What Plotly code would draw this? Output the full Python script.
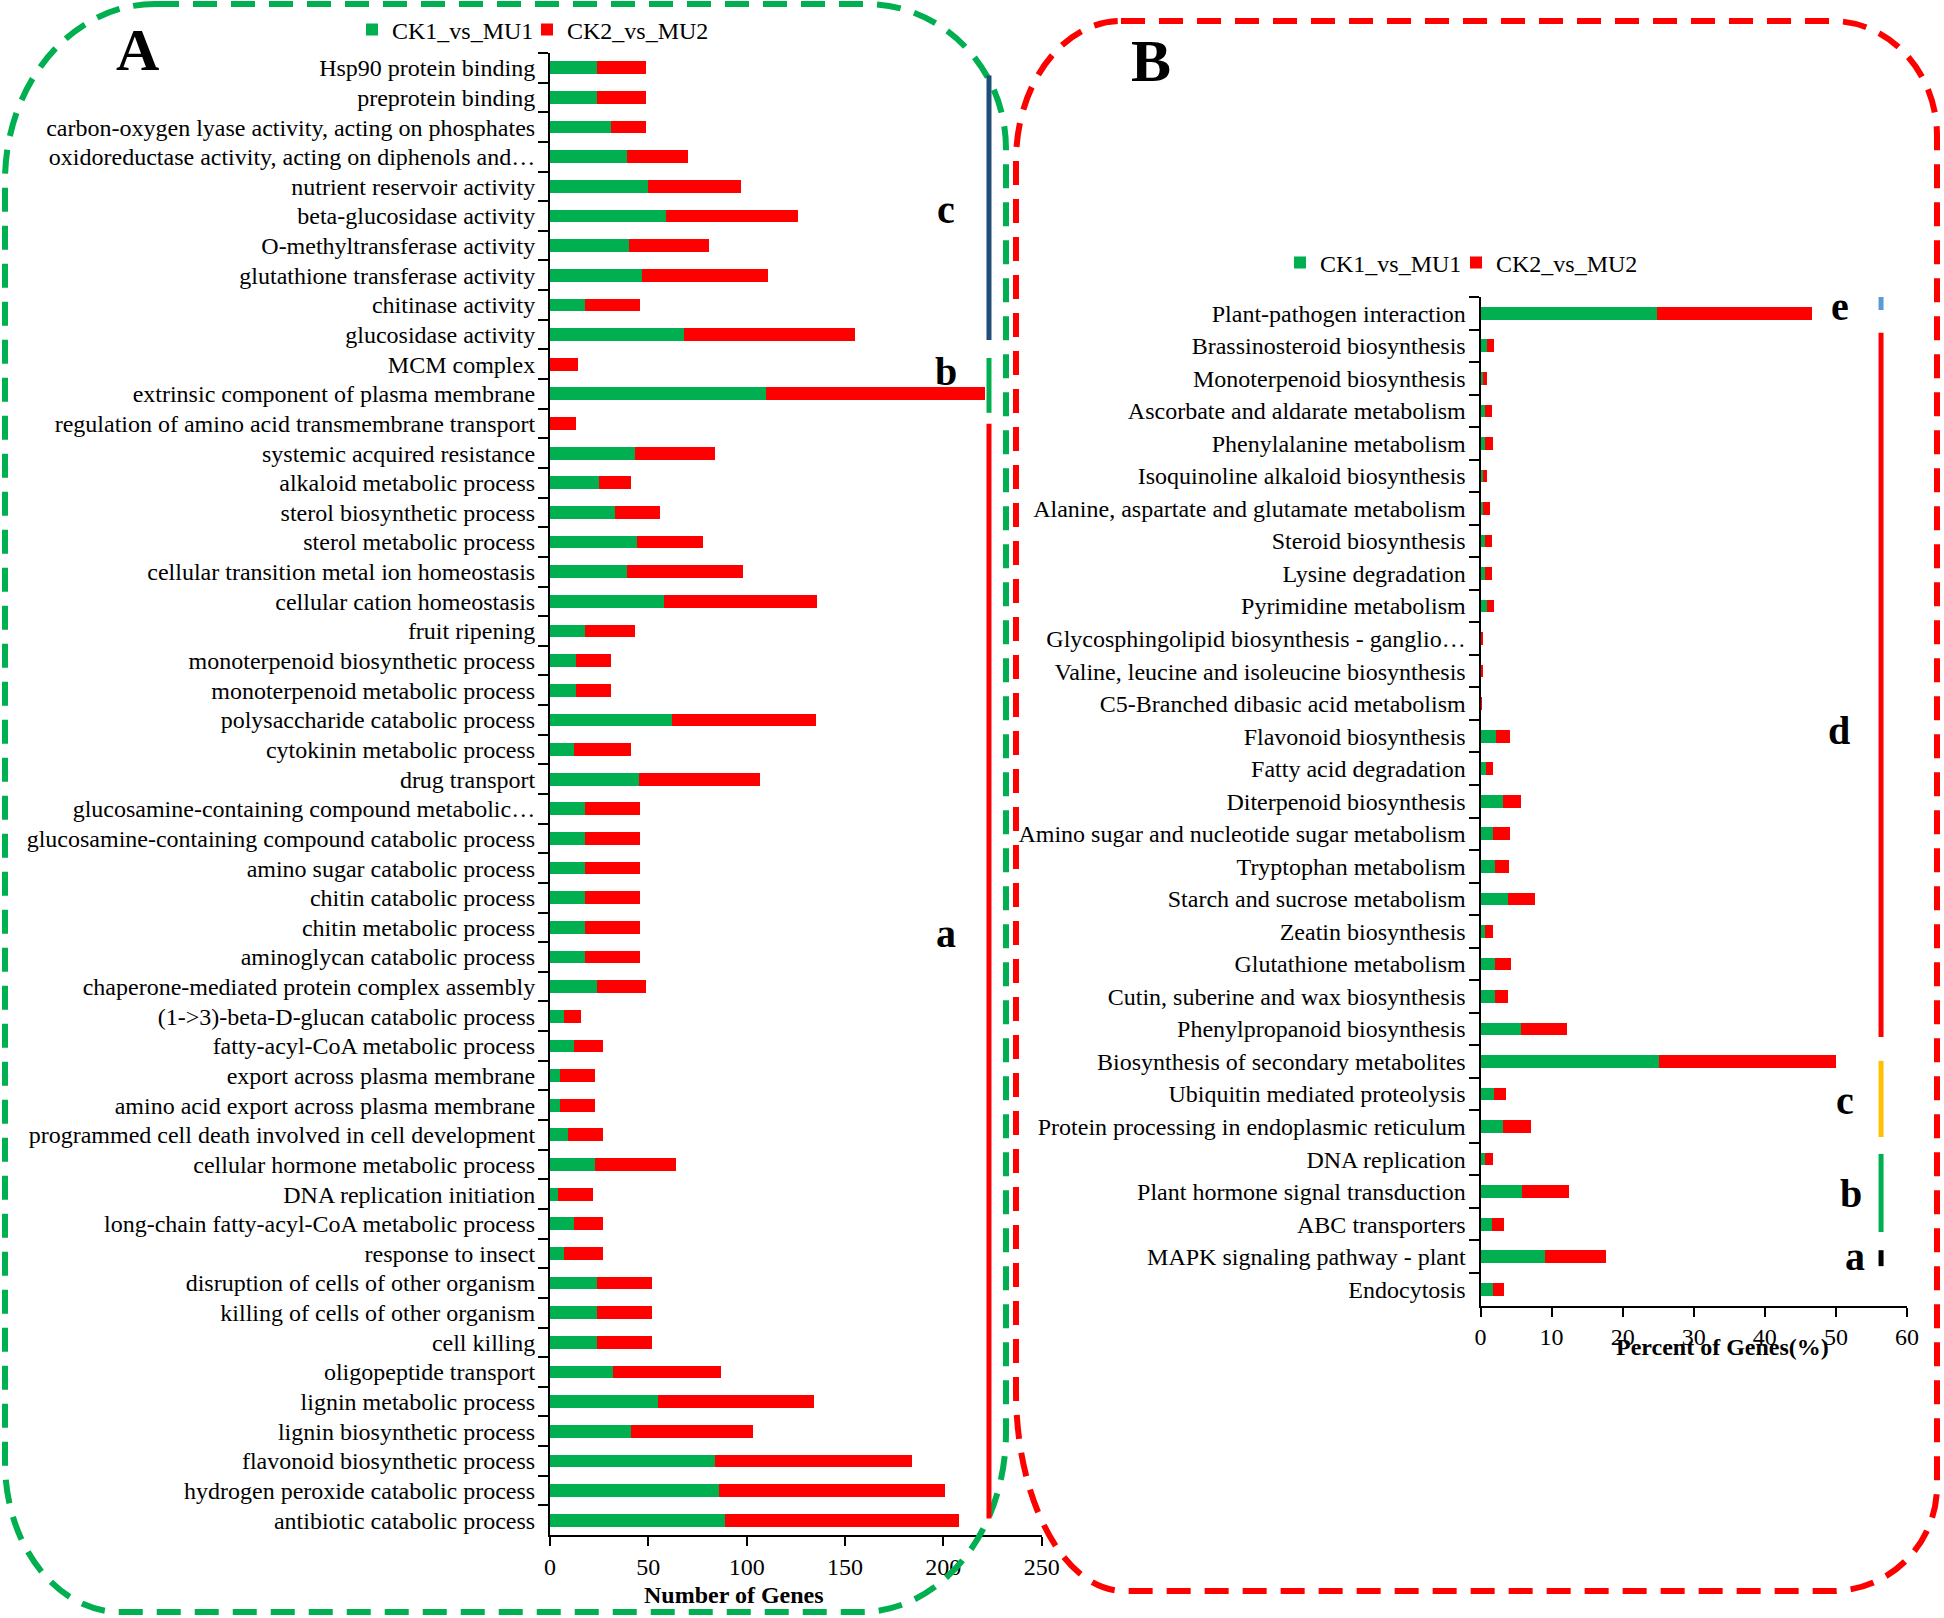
import plotly.graph_objects as go

W, H = 1944, 1618
GREEN = "#00B050"
RED = "#FF0000"
FONT = "Liberation Serif"

# ---------------- Panel A data (GO terms, number of genes) ----------------
go_terms = [
    "Hsp90 protein binding",
    "preprotein binding",
    "carbon-oxygen lyase activity, acting on phosphates",
    "oxidoreductase activity, acting on diphenols and…",
    "nutrient reservoir activity",
    "beta-glucosidase activity",
    "O-methyltransferase activity",
    "glutathione transferase activity",
    "chitinase activity",
    "glucosidase activity",
    "MCM complex",
    "extrinsic component of plasma membrane",
    "regulation of amino acid transmembrane transport",
    "systemic acquired resistance",
    "alkaloid metabolic process",
    "sterol biosynthetic process",
    "sterol metabolic process",
    "cellular transition metal ion homeostasis",
    "cellular cation homeostasis",
    "fruit ripening",
    "monoterpenoid biosynthetic process",
    "monoterpenoid metabolic process",
    "polysaccharide catabolic process",
    "cytokinin metabolic process",
    "drug transport",
    "glucosamine-containing compound metabolic…",
    "glucosamine-containing compound catabolic process",
    "amino sugar catabolic process",
    "chitin catabolic process",
    "chitin metabolic process",
    "aminoglycan catabolic process",
    "chaperone-mediated protein complex assembly",
    "(1->3)-beta-D-glucan catabolic process",
    "fatty-acyl-CoA metabolic process",
    "export across plasma membrane",
    "amino acid export across plasma membrane",
    "programmed cell death involved in cell development",
    "cellular hormone metabolic process",
    "DNA replication initiation",
    "long-chain fatty-acyl-CoA metabolic process",
    "response to insect",
    "disruption of cells of other organism",
    "killing of cells of other organism",
    "cell killing",
    "oligopeptide transport",
    "lignin metabolic process",
    "lignin biosynthetic process",
    "flavonoid biosynthetic process",
    "hydrogen peroxide catabolic process",
    "antibiotic catabolic process",
]
go_ck1 = [24, 24, 31, 39, 50, 59, 40, 47, 18, 68,
          0, 110, 0, 43, 25, 33, 44, 39, 58, 18,
          13, 13, 62, 12, 45, 18, 18, 18, 18, 18,
          18, 24, 7, 12, 5, 5, 9, 23, 4, 12,
          7, 24, 24, 24, 32, 55, 41, 84, 86, 89]
go_ck2 = [25, 25, 18, 31, 47, 67, 41, 64, 28, 87,
          14, 111, 13, 41, 16, 23, 34, 59, 78, 25,
          18, 18, 73, 29, 62, 28, 28, 28, 28, 28,
          28, 25, 9, 15, 18, 18, 18, 41, 18, 15,
          20, 28, 28, 28, 55, 79, 62, 100, 115, 119]

# ---------------- Panel B data (KEGG pathways, percent of genes) ----------------
kegg_terms = [
    "Plant-pathogen interaction",
    "Brassinosteroid biosynthesis",
    "Monoterpenoid biosynthesis",
    "Ascorbate and aldarate metabolism",
    "Phenylalanine metabolism",
    "Isoquinoline alkaloid biosynthesis",
    "Alanine, aspartate and glutamate metabolism",
    "Steroid biosynthesis",
    "Lysine degradation",
    "Pyrimidine metabolism",
    "Glycosphingolipid biosynthesis - ganglio…",
    "Valine, leucine and isoleucine biosynthesis",
    "C5-Branched dibasic acid metabolism",
    "Flavonoid biosynthesis",
    "Fatty acid degradation",
    "Diterpenoid biosynthesis",
    "Amino sugar and nucleotide sugar metabolism",
    "Tryptophan metabolism",
    "Starch and sucrose metabolism",
    "Zeatin biosynthesis",
    "Glutathione metabolism",
    "Cutin, suberine and wax biosynthesis",
    "Phenylpropanoid biosynthesis",
    "Biosynthesis of secondary metabolites",
    "Ubiquitin mediated proteolysis",
    "Protein processing in endoplasmic reticulum",
    "DNA replication",
    "Plant hormone signal transduction",
    "ABC transporters",
    "MAPK signaling pathway - plant",
    "Endocytosis",
]
kegg_ck1 = [24.8, 0.9, 0.4, 0.6, 0.6, 0.3, 0.4, 0.6, 0.7, 0.9,
            0.05, 0.05, 0.0, 2.15, 0.75, 3.2, 1.8, 2.05, 3.9, 0.6,
            2.0, 2.0, 5.7, 25.1, 1.9, 3.2, 0.6, 5.8, 1.6, 9.1, 1.8]
kegg_ck2 = [21.9, 1.0, 0.45, 1.0, 1.1, 0.55, 1.0, 0.95, 0.85, 1.0,
            0.37, 0.32, 0.14, 2.05, 1.0, 2.45, 2.3, 1.9, 3.75, 1.2,
            2.35, 1.85, 6.5, 24.9, 1.7, 3.9, 1.1, 6.6, 1.7, 8.5, 1.55]

series_names = ["CK1_vs_MU1", "CK2_vs_MU2"]

# ---------------- helpers (pixel -> paper) ----------------
def px(x):
    return x / W


def py(y):
    return 1 - y / H


fig = go.Figure()

# Panel A bars (each series has its own legend box so the entries can be spaced like the original)
fig.add_trace(go.Bar(y=go_terms, x=go_ck1, name=series_names[0], orientation="h",
                     marker=dict(color=GREEN, line=dict(width=0)), width=0.43,
                     xaxis="x", yaxis="y", legend="legend"))
fig.add_trace(go.Bar(y=go_terms, x=go_ck2, name=series_names[1], orientation="h",
                     marker=dict(color=RED, line=dict(width=0)), width=0.43,
                     xaxis="x", yaxis="y", legend="legend3"))
# Panel B bars
fig.add_trace(go.Bar(y=kegg_terms, x=kegg_ck1, name=series_names[0], orientation="h",
                     marker=dict(color=GREEN, line=dict(width=0)), width=0.39,
                     xaxis="x2", yaxis="y2", legend="legend2"))
fig.add_trace(go.Bar(y=kegg_terms, x=kegg_ck2, name=series_names[1], orientation="h",
                     marker=dict(color=RED, line=dict(width=0)), width=0.39,
                     xaxis="x2", yaxis="y2", legend="legend4"))

axis_common = dict(showline=True, linecolor="black", linewidth=2, ticks="outside",
                   tickcolor="black", tickwidth=2, showgrid=False, zeroline=False,
                   tickfont=dict(size=24, color="black", family=FONT))

legend_common = dict(orientation="h", xanchor="left", yanchor="middle",
                     font=dict(size=24, family=FONT), itemwidth=30,
                     bgcolor="rgba(0,0,0,0)", borderwidth=0)

fig.update_layout(
    width=W, height=H, template="none", barmode="stack",
    margin=dict(l=0, r=0, t=0, b=0, autoexpand=False),
    paper_bgcolor="white", plot_bgcolor="white",
    font=dict(family=FONT, size=24, color="black"),
    xaxis=dict(domain=[px(550), px(1041.7)], range=[0, 250], dtick=50, anchor="y",
               ticklen=9, **axis_common),
    yaxis=dict(domain=[py(1535), py(53)], anchor="x", type="category",
               categoryorder="array", categoryarray=go_terms, range=[49.5, -0.5],
               ticklen=10, tickson="boundaries", ticklabelstandoff=8, **axis_common),
    xaxis2=dict(domain=[px(1480.5), px(1907)], range=[0, 60], dtick=10, anchor="y2",
                ticklen=9, **axis_common),
    yaxis2=dict(domain=[py(1305.5), py(297)], anchor="x2", type="category",
                categoryorder="array", categoryarray=kegg_terms, range=[30.5, -0.5],
                ticklen=10, tickson="boundaries", ticklabelstandoff=8, **axis_common),
    legend=dict(x=px(352), y=py(30), **legend_common),
    legend3=dict(x=px(527), y=py(30), **legend_common),
    legend2=dict(x=px(1280), y=py(263), **legend_common),
    legend4=dict(x=px(1456), y=py(263), **legend_common),
    showlegend=True,
)

# ---------------- dashed rounded frames ----------------
K = 0.5523


def rounded_path(l, t, r, b, tl, tr, br, bl):
    def P(x, y):
        return f"{px(x):.5f},{py(y):.5f}"
    s = f"M{P(l + tl[0], t)} L{P(r - tr[0], t)} "
    s += f"C{P(r - tr[0] + K * tr[0], t)} {P(r, t + tr[1] - K * tr[1])} {P(r, t + tr[1])} "
    s += f"L{P(r, b - br[1])} "
    s += f"C{P(r, b - br[1] + K * br[1])} {P(r - br[0] + K * br[0], b)} {P(r - br[0], b)} "
    s += f"L{P(l + bl[0], b)} "
    s += f"C{P(l + bl[0] - K * bl[0], b)} {P(l, b - bl[1] + K * bl[1])} {P(l, b - bl[1])} "
    s += f"L{P(l, t + tl[1])} "
    s += f"C{P(l, t + tl[1] - K * tl[1])} {P(l + tl[0] - K * tl[0], t)} {P(l + tl[0], t)} Z"
    return s


fig.add_shape(type="path", xref="paper", yref="paper",
              path=rounded_path(5, 4, 1006, 1612, (150, 177), (140, 145), (145, 180), (115, 150)),
              line=dict(color=GREEN, width=6, dash="24px,14px"), fillcolor="rgba(0,0,0,0)")
fig.add_shape(type="path", xref="paper", yref="paper",
              path=rounded_path(1016, 21, 1937, 1591, (105, 140), (105, 115), (105, 105), (108, 200)),
              line=dict(color=RED, width=6, dash="24px,14px"), fillcolor="rgba(0,0,0,0)")

# ---------------- group brackets ----------------
groups_a = [  # (label, y0 index, y1 index, label y index, colour)
    ("c", 0.26, 9.18, 4.79, "#1F4E79"),
    ("b", 9.79, 11.64, 10.26, GREEN),
    ("a", 12.01, 48.94, 29.2, RED),
]
for lab, y0, y1, ly, col in groups_a:
    fig.add_shape(type="line", xref="x", yref="y", x0=223.2, x1=223.2, y0=y0, y1=y1,
                  line=dict(color=col, width=5))
    fig.add_annotation(x=201.3, y=ly, xref="x", yref="y", text=f"<b>{lab}</b>",
                       showarrow=False, xanchor="center", yanchor="middle",
                       font=dict(size=40, family=FONT, color="black"))

groups_b = [
    ("e", -0.55, -0.1, -0.2, 50.6, "#5B9BD5"),
    ("d", 0.6, 22.25, 12.84, 50.4, RED),
    ("c", 22.98, 25.32, 24.2, 51.3, "#FFC000"),
    ("b", 25.84, 28.24, 27.07, 52.1, GREEN),
    ("a", 28.8, 29.29, 29.0, 52.7, "black"),
]
for lab, y0, y1, ly, lx, col in groups_b:
    fig.add_shape(type="line", xref="x2", yref="y2", x0=56.35, x1=56.35, y0=y0, y1=y1,
                  line=dict(color=col, width=5))
    fig.add_annotation(x=lx, y=ly, xref="x2", yref="y2", text=f"<b>{lab}</b>",
                       showarrow=False, xanchor="center", yanchor="middle",
                       font=dict(size=40, family=FONT, color="black"))

# ---------------- panel letters and axis titles ----------------
def label(xp, yp, text, size):
    fig.add_annotation(x=px(xp), y=py(yp), xref="paper", yref="paper", text=text,
                       showarrow=False, xanchor="center", yanchor="middle",
                       font=dict(size=size, family=FONT, color="black"))


label(137, 50, "<b>A</b>", 60)
label(1151, 61, "<b>B</b>", 60)
label(734, 1595, "<b>Number of Genes</b>", 24)
label(1722, 1347, "<b>Percent of Genes(%)</b>", 24)

fig.write_html("out.html", config={"displayModeBar": False},
               post_script="document.body.style.margin='0';document.body.style.padding='0';"
                           "document.body.style.overflow='hidden';")
